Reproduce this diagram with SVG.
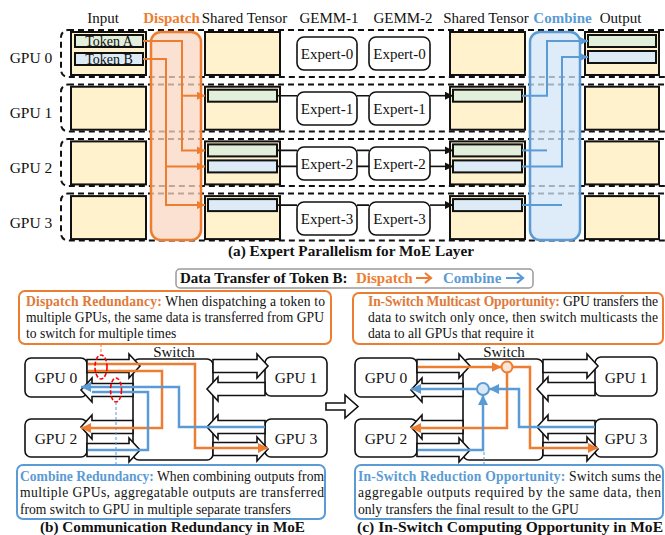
<svg xmlns="http://www.w3.org/2000/svg" width="665" height="535" viewBox="0 0 665 535" font-family="'Liberation Serif','Times New Roman',serif">
<defs>
<style>
text{font-family:'Liberation Serif','Times New Roman',serif;fill:#111}
.h{font-size:15px;text-anchor:middle}
.hb{font-size:15px;text-anchor:middle;font-weight:bold}
.gl{font-size:15.5px;text-anchor:middle}
.rowbox{fill:none;stroke:#111;stroke-width:2;stroke-dasharray:6 4}
.ybox{fill:#fff2cc;stroke:#111;stroke-width:2}
.gbar{fill:#e2efda;stroke:#111;stroke-width:2}
.bbar{fill:#ddebf7;stroke:#111;stroke-width:2}
.exp{fill:#fff;stroke:#111;stroke-width:1.6}
.tk{font-size:14px;text-anchor:middle}
.or{fill:none;stroke:#ed7d31;stroke-width:2}
.bl{fill:none;stroke:#5b9bd5;stroke-width:2}
.or2{fill:none;stroke:#ed7d31;stroke-width:2.5}
.bl2{fill:none;stroke:#5b9bd5;stroke-width:2.5}
.bk{fill:none;stroke:#111;stroke-width:1.6}
.blk{fill:#fff;stroke:#111;stroke-width:1.6}
.gpu{fill:#fff;stroke:#111;stroke-width:1.6}
.bt{font-size:13.6px}
.cap{font-size:15.5px;font-weight:bold;text-anchor:middle}
.ot{fill:#e07a3a;font-weight:bold}
.btx{fill:#5b9bd5;font-weight:bold}
</style>
<marker id="ao" viewBox="0 0 10 10" refX="10" refY="5" markerWidth="4" markerHeight="4" orient="auto"><path d="M0,0 L10,5 L0,10 Z" fill="#ed7d31"/></marker>
<marker id="ab" viewBox="0 0 10 10" refX="10" refY="5" markerWidth="4" markerHeight="4" orient="auto"><path d="M0,0 L10,5 L0,10 Z" fill="#5b9bd5"/></marker>
<marker id="ak" viewBox="0 0 10 10" refX="10" refY="5" markerWidth="5" markerHeight="5" orient="auto"><path d="M0,0 L10,5 L0,10 Z" fill="#111"/></marker>
</defs>
<rect width="665" height="535" fill="#fff"/>

<g id="headers">
<text class="h" x="103" y="23">Input</text>
<text class="hb" x="171.5" y="23" style="fill:#ed7d31">Dispatch</text>
<text class="h" x="244.5" y="23">Shared Tensor</text>
<text class="h" x="329" y="23">GEMM-1</text>
<text class="h" x="403" y="23">GEMM-2</text>
<text class="h" x="486" y="23">Shared Tensor</text>
<text class="hb" x="562.5" y="23" style="fill:#5b9bd5">Combine</text>
<text class="h" x="620.5" y="23">Output</text>
</g>

<g id="rows">
<rect class="rowbox" x="61" y="30" width="650" height="47" rx="7"/>
<rect class="rowbox" x="61" y="84.5" width="650" height="47" rx="7"/>
<rect class="rowbox" x="61" y="139" width="650" height="47" rx="7"/>
<rect class="rowbox" x="61" y="193.5" width="650" height="47" rx="7"/>
<text class="gl" x="31" y="63">GPU 0</text>
<text class="gl" x="31" y="118">GPU 1</text>
<text class="gl" x="31" y="173">GPU 2</text>
<text class="gl" x="31" y="228">GPU 3</text>
</g>

<g id="dispatch-band"><rect x="151" y="32" width="50" height="208" rx="10" fill="#f9d7c1" fill-opacity="0.75" stroke="#ed7d31" stroke-width="2.5"/></g>
<g id="combine-band"><rect x="530" y="32" width="50" height="208" rx="10" fill="#d3e4f5" fill-opacity="0.75" stroke="#5b9bd5" stroke-width="2.5"/></g>

<g id="input0"><rect class="ybox" x="71" y="32" width="75" height="43"/>
<rect class="gbar" x="75" y="35" width="68" height="12"/><text class="tk" x="109" y="45.5">Token A</text>
<rect class="bbar" x="75" y="53" width="68" height="12"/><text class="tk" x="109" y="63.5">Token B</text></g>
<g id="input1"><rect class="ybox" x="71" y="86.7" width="75" height="43"/></g>
<g id="input2"><rect class="ybox" x="71" y="141.4" width="75" height="43"/></g>
<g id="input3"><rect class="ybox" x="71" y="196.1" width="75" height="43"/></g>

<g id="sharedL0"><rect class="ybox" x="205" y="32" width="75" height="43"/></g>
<g id="sharedL1"><rect class="ybox" x="205" y="86.7" width="75" height="43"/><rect class="gbar" x="208" y="89.7" width="69" height="12"/></g>
<g id="sharedL2"><rect class="ybox" x="205" y="141.4" width="75" height="43"/><rect class="gbar" x="208" y="144.4" width="69" height="12"/><rect class="bbar" x="208" y="160.4" width="69" height="12"/></g>
<g id="sharedL3"><rect class="ybox" x="205" y="196.1" width="75" height="43"/><rect class="bbar" x="208" y="199.1" width="69" height="12"/></g>

<g id="e10"><rect class="exp" x="297" y="37" width="60" height="33" rx="7"/><text class="h" x="327" y="58.5">Expert-0</text></g>
<g id="e20"><rect class="exp" x="369" y="37" width="61" height="33" rx="7"/><text class="h" x="399.5" y="58.5">Expert-0</text></g>
<g id="e11"><rect class="exp" x="297" y="92" width="60" height="33" rx="7"/><text class="h" x="327" y="113.5">Expert-1</text></g>
<g id="e21"><rect class="exp" x="369" y="92" width="61" height="33" rx="7"/><text class="h" x="399.5" y="113.5">Expert-1</text></g>
<g id="e12"><rect class="exp" x="297" y="147" width="60" height="33" rx="7"/><text class="h" x="327" y="168.5">Expert-2</text></g>
<g id="e22"><rect class="exp" x="369" y="147" width="61" height="33" rx="7"/><text class="h" x="399.5" y="168.5">Expert-2</text></g>
<g id="e13"><rect class="exp" x="297" y="202" width="60" height="33" rx="7"/><text class="h" x="327" y="223.5">Expert-3</text></g>
<g id="e23"><rect class="exp" x="369" y="202" width="61" height="33" rx="7"/><text class="h" x="399.5" y="223.5">Expert-3</text></g>

<g id="sharedR0"><rect class="ybox" x="450" y="32" width="75" height="43"/></g>
<g id="sharedR1"><rect class="ybox" x="450" y="86.7" width="75" height="43"/><rect class="gbar" x="453" y="89.7" width="69" height="12"/></g>
<g id="sharedR2"><rect class="ybox" x="450" y="141.4" width="75" height="43"/><rect class="gbar" x="453" y="144.4" width="69" height="12"/><rect class="bbar" x="453" y="160.4" width="69" height="12"/></g>
<g id="sharedR3"><rect class="ybox" x="450" y="196.1" width="75" height="43"/><rect class="bbar" x="453" y="199.1" width="69" height="12"/></g>

<g id="output0"><rect class="ybox" x="585" y="32" width="74" height="43"/><rect class="gbar" x="588" y="35" width="68" height="12"/><rect class="bbar" x="588" y="51" width="68" height="12"/></g>
<g id="output1"><rect class="ybox" x="585" y="86.7" width="74" height="43"/></g>
<g id="output2"><rect class="ybox" x="585" y="141.4" width="74" height="43"/></g>
<g id="output3"><rect class="ybox" x="585" y="196.1" width="74" height="43"/></g>

<g id="connectors-a">
<path class="or" d="M143,41 H182 V150.4 H205" marker-end="url(#ao)"/>
<path class="or" d="M182,95.7 H205" marker-end="url(#ao)"/>
<path class="or" d="M143,59 H166 V205.1 H205" marker-end="url(#ao)"/>
<path class="or" d="M166,166.4 H205" marker-end="url(#ao)"/>
<path class="bk" d="M277,95.7 H297 M357,95.7 H369"/>
<path class="bk" d="M430,95.7 H453" marker-end="url(#ak)"/>
<path class="bk" d="M277,150.4 H297 M357,150.4 H369 M277,166.4 H297 M357,166.4 H369"/>
<path class="bk" d="M430,150.4 H453" marker-end="url(#ak)"/>
<path class="bk" d="M430,166.4 H453" marker-end="url(#ak)"/>
<path class="bk" d="M277,205.1 H297 M357,205.1 H369"/>
<path class="bk" d="M430,205.1 H453" marker-end="url(#ak)"/>
<path class="bl" d="M522,95.7 H547 V41 H588" marker-end="url(#ab)"/>
<path class="bl" d="M522,150.4 H547"/>
<path class="bl" d="M522,166.4 H562 V57 H588" marker-end="url(#ab)"/>
<path class="bl" d="M522,205.1 H562"/>
</g>

<text class="cap" x="351" y="256" textLength="246" lengthAdjust="spacingAndGlyphs">(a) Expert Parallelism for MoE Layer</text>

<g id="legend">
<rect x="176" y="269" width="357" height="19" rx="4" fill="#fff" stroke="#9a9a9a" stroke-width="1.5"/>
<text x="180" y="283" style="font-size:15px;font-weight:bold">Data Transfer of Token B:</text>
<text x="356" y="283" style="font-size:15px;font-weight:bold;fill:#ed7d31">Dispatch</text>
<path d="M416,278 H431 M425,273 L431,278 L425,283" fill="none" stroke="#ed7d31" stroke-width="2.2"/>
<text x="443" y="283" style="font-size:15px;font-weight:bold;fill:#5b9bd5">Combine</text>
<path d="M506,278 H523 M517,273 L523,278 L517,283" fill="none" stroke="#5b9bd5" stroke-width="2.2"/>
</g>

<g id="note-dispatch">
<rect x="19" y="291" width="312" height="53" rx="6" fill="#fff" stroke="#ed7d31" stroke-width="2"/>
<text class="bt" x="26" y="306" textLength="299" lengthAdjust="spacing"><tspan class="ot">Dispatch Redundancy:</tspan> When dispatching a token to</text>
<text class="bt" x="26" y="322" textLength="298" lengthAdjust="spacing">multiple GPUs, the same data is transferred from GPU</text>
<text class="bt" x="26" y="338">to switch for multiple times</text>
</g>
<g id="note-multicast">
<rect x="353" y="293" width="310" height="51" rx="6" fill="#fff" stroke="#ed7d31" stroke-width="2"/>
<text class="bt" x="368" y="306" textLength="290" lengthAdjust="spacing"><tspan class="ot">In-Switch Multicast Opportunity:</tspan> GPU transfers the</text>
<text class="bt" x="368" y="322" textLength="290" lengthAdjust="spacing">data to switch only once, then switch multicasts the</text>
<text class="bt" x="368" y="338">data to all GPUs that require it</text>
</g>
<g id="note-combine">
<rect x="17" y="465" width="308" height="54" rx="6" fill="#fff" stroke="#5b9bd5" stroke-width="2"/>
<text class="bt" x="20" y="481" textLength="304" lengthAdjust="spacing"><tspan class="btx">Combine Redundancy:</tspan> When combining outputs from</text>
<text class="bt" x="20" y="497" textLength="304" lengthAdjust="spacing">multiple GPUs, aggregatable outputs are transferred</text>
<text class="bt" x="20" y="514">from switch to GPU in multiple separate transfers</text>
</g>
<g id="note-reduction">
<rect x="355" y="465" width="308" height="54" rx="6" fill="#fff" stroke="#5b9bd5" stroke-width="2"/>
<text class="bt" x="358" y="481" textLength="303" lengthAdjust="spacing"><tspan class="btx">In-Switch Reduction Opportunity:</tspan> Switch sums the</text>
<text class="bt" x="358" y="497" textLength="303" lengthAdjust="spacing">aggregable outputs required by the same data, then</text>
<text class="bt" x="358" y="514">only transfers the final result to the GPU</text>
</g>

<g id="b-gpu0"><rect class="gpu" x="25" y="358" width="62" height="39" rx="6"/><text class="gl" x="56" y="383">GPU 0</text></g>
<g id="b-gpu2"><rect class="gpu" x="25" y="419" width="62" height="38" rx="6"/><text class="gl" x="56" y="444">GPU 2</text></g>
<g id="b-switch"><rect class="gpu" x="133" y="359" width="80" height="101" rx="6"/><text class="h" x="174" y="357">Switch</text></g>
<g id="b-gpu1"><rect class="gpu" x="265" y="357" width="62" height="39" rx="6"/><text class="gl" x="296" y="383">GPU 1</text></g>
<g id="b-gpu3"><rect class="gpu" x="265" y="419" width="62" height="38" rx="6"/><text class="gl" x="296" y="444">GPU 3</text></g>

<g id="c-gpu0"><rect class="gpu" x="355" y="358" width="62" height="39" rx="6"/><text class="gl" x="386" y="383">GPU 0</text></g>
<g id="c-gpu2"><rect class="gpu" x="355" y="419" width="62" height="38" rx="6"/><text class="gl" x="386" y="444">GPU 2</text></g>
<g id="c-switch"><rect class="gpu" x="463" y="359" width="80" height="101" rx="6"/><text class="h" x="504" y="357">Switch</text></g>
<g id="c-gpu1"><rect class="gpu" x="595" y="357" width="62" height="39" rx="6"/><text class="gl" x="626" y="383">GPU 1</text></g>
<g id="c-gpu3"><rect class="gpu" x="595" y="419" width="62" height="38" rx="6"/><text class="gl" x="626" y="444">GPU 3</text></g>

<g id="links">
<g id="links-b">
<path class="blk" d="M87,359.5 H129 V354 L140,366 L129,378 V372.5 H87 Z"/>
<path class="blk" d="M133,383.5 H92 V378 L81,390 L92,402 V396.5 H133 Z"/>
<path class="blk" d="M133,420.5 H92 V415 L81,427 L92,439 V433.5 H133 Z"/>
<path class="blk" d="M87,443.5 H129 V438 L140,450 L129,462 V456.5 H87 Z"/>
<path class="blk" d="M213,359.5 H257 V354 L268,366 L257,378 V372.5 H213 Z"/>
<path class="blk" d="M265,382.5 H218 V377 L207,389 L218,401 V395.5 H265 Z"/>
<path class="blk" d="M265,420.5 H218 V415 L207,427 L218,439 V433.5 H265 Z"/>
<path class="blk" d="M213,442.5 H257 V437 L268,449 L257,461 V455.5 H213 Z"/>
</g>
<use href="#links-b" transform="translate(330,0)"/>
</g>

<path class="blk" d="M326,403 H345 V395 L358,406.5 L345,418 V410 H326 Z"/>

<g id="flows-b">
<path class="or2" d="M88,364 H195 V448 H268" marker-end="url(#ao)"/>
<path class="or2" d="M88,371 H162 V428 H81" marker-end="url(#ao)"/>
<path class="bl2" d="M88,450 H148 V392 H92"/>
<path class="bl2" d="M265,427 H179 V387 H81" marker-end="url(#ab)"/>
<ellipse cx="101" cy="367" rx="6" ry="12" fill="none" stroke="#f00" stroke-width="1.6" stroke-dasharray="4 2"/>
<ellipse cx="116" cy="390" rx="5.5" ry="12" fill="none" stroke="#f00" stroke-width="1.6" stroke-dasharray="4 2"/>
<path d="M101,344 V355" stroke="#ed7d31" stroke-width="1" stroke-dasharray="3 2" fill="none"/>
<path d="M116,402 V465" stroke="#5b9bd5" stroke-width="1" stroke-dasharray="3 2" fill="none"/>
</g>

<g id="flows-c">
<path class="or2" d="M418,367 H501.5" marker-end="url(#ao)"/>
<path class="or2" d="M512.5,367 H530 V448 H598" marker-end="url(#ao)"/>
<path class="or2" d="M507,372.5 V428 H411" marker-end="url(#ao)"/>
<circle cx="507" cy="367" r="5.5" fill="#fbe5d6" stroke="#ed7d31" stroke-width="2"/>
<path class="bl2" d="M595,427 H519 V389 H489" marker-end="url(#ab)"/>
<path class="bl2" d="M418,450 H483 V395" marker-end="url(#ab)"/>
<path class="bl2" d="M477,389 H411" marker-end="url(#ab)"/>
<circle cx="483" cy="389" r="6" fill="#dae8f5" stroke="#5b9bd5" stroke-width="2"/>
<path d="M484,452 V465" stroke="#5b9bd5" stroke-width="1" stroke-dasharray="3 2" fill="none"/>
</g>

<text class="cap" x="172.5" y="532" textLength="265" lengthAdjust="spacingAndGlyphs">(b) Communication Redundancy in MoE</text>
<text class="cap" x="510" y="532" textLength="306" lengthAdjust="spacingAndGlyphs">(c) In-Switch Computing Opportunity in MoE</text>
</svg>
